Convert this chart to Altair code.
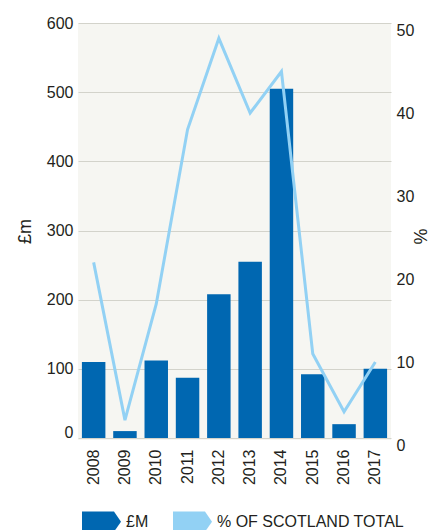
import altair as alt
import pandas as pd

years = ["2008", "2009", "2010", "2011", "2012", "2013", "2014", "2015", "2016", "2017"]
value_gbp_m = [110, 10, 112, 87, 208, 255, 505, 92, 20, 100]
pct_scotland = [22, 3, 17, 38, 49, 40, 45, 11, 4, 10]
series_names = ["£M", "% OF SCOTLAND TOTAL"]
left_ticks = [0, 100, 200, 300, 400, 500, 600]
right_ticks = [0, 10, 20, 30, 40, 50]

BAR = "#0067b1"
LINE = "#92d1f4"
TXT = "#231f20"
FONT = "Liberation Sans"
ARROW = "M-1,-0.52L0.64,-0.52L1,0L0.64,0.52L-1,0.52Z"

df = pd.DataFrame({"year": years, "gbp": value_gbp_m, "pct": pct_scotland,
                   "series": [series_names[0]] * len(years)})

x_enc = alt.X("year:N", sort=years,
              scale=alt.Scale(paddingInner=0.25, paddingOuter=0.125),
              axis=alt.Axis(title=None, labelAngle=-90, labelAlign="right",
                            labelBaseline="middle", labelPadding=9, ticks=False,
                            domain=False, labelFontSize=16, labelColor=TXT))

bars = alt.Chart(df).mark_bar(color=BAR).encode(
    x=x_enc,
    y=alt.Y("gbp:Q", scale=alt.Scale(domain=[0, 600], range=[415, 0]),
            axis=alt.Axis(title="£m", values=left_ticks, grid=True, ticks=False,
                          domain=False, labelFontSize=16, labelColor=TXT,
                          labelPadding=5,
                          labelOffset={"condition": {"test": "datum.value === 0", "value": -6}, "value": 0},
                          gridColor="#d3d3cb", gridWidth=1.2,
                          titleFontSize=18, titleFontWeight="normal", titleColor=TXT,
                          titleX=-53, titleY=208, titleAlign="center",
                          titleBaseline="middle")),
    color=alt.Color("series:N",
                    scale=alt.Scale(domain=series_names, range=[BAR, LINE]),
                    legend=alt.Legend(title=None, orient="none", legendX=4, legendY=479,
                                      direction="horizontal", symbolType=ARROW,
                                      symbolSize=1521, symbolStrokeWidth=0,
                                      symbolOpacity=1, labelFontSize=16,
                                      labelOffset=5, columnPadding=24, labelLimit=400,
                                      labelColor=TXT, labelFont=FONT)),
)

line = alt.Chart(df).mark_line(color=LINE, strokeWidth=3).encode(
    x=alt.X("year:N", sort=years),
    y=alt.Y("pct:Q", scale=alt.Scale(domain=[0, 50], range=[422, 7]),
            axis=alt.Axis(title="%", orient="right", values=right_ticks, grid=False,
                          ticks=False, domain=False, labelFontSize=16,
                          labelColor=TXT, labelPadding=5,
                          titleFontSize=18, titleFontWeight="normal", titleColor=TXT,
                          titleX=30, titleY=213, titleAngle=270,
                          titleAlign="center", titleBaseline="middle")),
)

chart = alt.layer(bars, line).resolve_scale(y="independent").properties(
    width=313, height=417,
    autosize=alt.AutoSizeParams(type="none"),
    padding={"left": 70, "top": 15, "right": 41, "bottom": 100},
).configure(font=FONT).configure_view(fill="#f6f6f2", stroke=None)

chart.save("out.html", embed_options={"renderer": "svg", "actions": False})
